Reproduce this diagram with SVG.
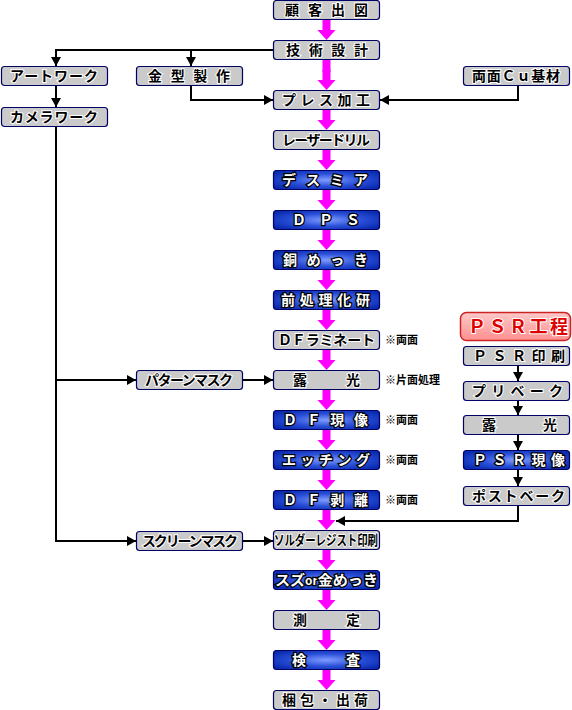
<svg xmlns="http://www.w3.org/2000/svg" width="572" height="710" viewBox="0 0 572 710">
<defs>
<radialGradient id="blue" cx="50%" cy="50%" r="60%">
<stop offset="0" stop-color="#7f9cff"/>
<stop offset="0.55" stop-color="#2a4fd8"/>
<stop offset="1" stop-color="#0a2cb0"/>
</radialGradient>
<linearGradient id="pink" x1="0" y1="0" x2="0" y2="1">
<stop offset="0" stop-color="#ffc8c8"/>
<stop offset="1" stop-color="#ff8f8f"/>
</linearGradient>
<marker id="ah" markerWidth="10" markerHeight="10" refX="9" refY="5" orient="auto" markerUnits="userSpaceOnUse">
<path d="M0,0 L9,5 L0,10 Z" fill="#000"/>
</marker>
<g id="marr"><path d="M-4,0 H4 V10 H9 L0,20 L-9,10 H-4 Z" fill="#ff00ff"/></g>
</defs>
<style>
.gb{fill:#cacaca;stroke:#000066;stroke-width:1.2}
.bb{fill:url(#blue);stroke:#000066;stroke-width:1.2}
.pb{fill:url(#pink);stroke:#cc2222;stroke-width:1.5}
text{font-family:"Noto Sans CJK JP","Noto Sans",sans-serif;font-weight:bold;font-size:14px;paint-order:stroke}
.gt{fill:#000;stroke:#fff;stroke-width:2}
.bt{fill:#fff;stroke:#000;stroke-width:2.5}
.pt{fill:#e00000;stroke:#fff;stroke-width:2;font-size:18px}
.nt{fill:#000;font-size:11px}
.ln{fill:none;stroke:#000;stroke-width:2}
</style>

<g id="connectors">
<use href="#marr" x="326.5" y="20"/>
<use href="#marr" x="326.5" y="70"/>
<use href="#marr" x="326.5" y="110"/>
<use href="#marr" x="326.5" y="150"/>
<use href="#marr" x="326.5" y="190"/>
<use href="#marr" x="326.5" y="230"/>
<use href="#marr" x="326.5" y="270"/>
<use href="#marr" x="326.5" y="310"/>
<use href="#marr" x="326.5" y="350"/>
<use href="#marr" x="326.5" y="390"/>
<use href="#marr" x="326.5" y="430"/>
<use href="#marr" x="326.5" y="470"/>
<use href="#marr" x="326.5" y="510"/>
<use href="#marr" x="326.5" y="550"/>
<use href="#marr" x="326.5" y="590"/>
<use href="#marr" x="326.5" y="630"/>
<use href="#marr" x="326.5" y="670"/>
<rect x="322.5" y="60" width="8" height="12" fill="#ff00ff"/>
<path class="ln" d="M273,50 H56 V66" marker-end="url(#ah)"/>
<path class="ln" d="M191,50 V66" marker-end="url(#ah)"/>
<path class="ln" d="M56,85 V107" marker-end="url(#ah)"/>
<path class="ln" d="M191,85 V100 H273" marker-end="url(#ah)"/>
<path class="ln" d="M518,85 V100 H380" marker-end="url(#ah)"/>
<path class="ln" d="M56,126 V541 H136" marker-end="url(#ah)"/>
<path class="ln" d="M56,380 H136" marker-end="url(#ah)"/>
<path class="ln" d="M243,380 H273" marker-end="url(#ah)"/>
<path class="ln" d="M243,541 H273" marker-end="url(#ah)"/>
<path class="ln" d="M518,366 V381" marker-end="url(#ah)"/>
<path class="ln" d="M518,400 V415" marker-end="url(#ah)"/>
<path class="ln" d="M518,434 V450" marker-end="url(#ah)"/>
<path class="ln" d="M518,469 V486" marker-end="url(#ah)"/>
<path class="ln" d="M518,505 V521 H336" marker-end="url(#ah)"/>
</g>

<g id="n1"><rect class="gb" x="273.5" y="0.5" width="106" height="19" rx="3"/><text class="gt" x="285" y="15" textLength="83" lengthAdjust="spacing">顧客出図</text></g>
<g id="n2"><rect class="gb" x="273.5" y="40.5" width="106" height="19" rx="3"/><text class="gt" x="286" y="55" textLength="82" lengthAdjust="spacing">技術設計</text></g>
<g id="n3"><rect class="gb" x="273.5" y="90.5" width="106" height="19" rx="3"/><text class="gt" x="282" y="105" textLength="88" lengthAdjust="spacing">プレス加工</text></g>
<g id="n4"><rect class="gb" x="273.5" y="130.5" width="106" height="19" rx="3"/><text class="gt" x="282" y="145" textLength="88" lengthAdjust="spacing">レーザードリル</text></g>
<g id="n5"><rect class="bb" x="273.5" y="170.5" width="106" height="19" rx="3"/><text class="bt" x="282" y="185" textLength="86" lengthAdjust="spacing">デスミア</text></g>
<g id="n6"><rect class="bb" x="273.5" y="210.5" width="106" height="19" rx="3"/><text class="bt" x="292" y="225" textLength="68" lengthAdjust="spacing">ＤＰＳ</text></g>
<g id="n7"><rect class="bb" x="273.5" y="250.5" width="106" height="19" rx="3"/><text class="bt" x="283" y="265" textLength="85" lengthAdjust="spacing">銅めっき</text></g>
<g id="n8"><rect class="bb" x="273.5" y="290.5" width="106" height="19" rx="3"/><text class="bt" x="281" y="305" textLength="89" lengthAdjust="spacing">前処理化研</text></g>
<g id="n9"><rect class="gb" x="273.5" y="330.5" width="106" height="19" rx="3"/><text class="gt" x="278" y="345" textLength="97" lengthAdjust="spacing">ＤＦラミネート</text></g>
<g id="n10"><rect class="gb" x="273.5" y="370.5" width="106" height="19" rx="3"/><text class="gt" x="293" y="385" textLength="67" lengthAdjust="spacing">露光</text></g>
<g id="n11"><rect class="bb" x="273.5" y="410.5" width="106" height="19" rx="3"/><text class="bt" x="283" y="425" textLength="85" lengthAdjust="spacing">ＤＦ現像</text></g>
<g id="n12"><rect class="bb" x="273.5" y="450.5" width="106" height="19" rx="3"/><text class="bt" x="282" y="465" textLength="88" lengthAdjust="spacing">エッチング</text></g>
<g id="n13"><rect class="bb" x="273.5" y="490.5" width="106" height="19" rx="3"/><text class="bt" x="283" y="505" textLength="85" lengthAdjust="spacing">ＤＦ剥離</text></g>
<g id="n14"><rect class="gb" x="273.5" y="530.5" width="106" height="19" rx="3"/><text class="gt" x="274" y="545" font-size="13" textLength="104" lengthAdjust="spacingAndGlyphs">ソルダーレジスト印刷</text></g>
<g id="n15"><rect class="bb" x="273.5" y="570.5" width="106" height="19" rx="3"/><text class="bt" x="275" y="585" textLength="103" lengthAdjust="spacingAndGlyphs">スズ<tspan font-size="11">or</tspan>金めっき</text></g>
<g id="n16"><rect class="gb" x="273.5" y="610.5" width="106" height="19" rx="3"/><text class="gt" x="293" y="625" textLength="67" lengthAdjust="spacing">測定</text></g>
<g id="n17"><rect class="bb" x="273.5" y="650.5" width="106" height="19" rx="3"/><text class="bt" x="292" y="665" textLength="68" lengthAdjust="spacing">検査</text></g>
<g id="n18"><rect class="gb" x="273.5" y="690.5" width="106" height="19" rx="3"/><text class="gt" x="282" y="705" textLength="86" lengthAdjust="spacing">梱包・出荷</text></g>

<g id="l1"><rect class="gb" x="1.5" y="66.5" width="106" height="19" rx="3"/><text class="gt" x="10" y="81" textLength="88" lengthAdjust="spacing">アートワーク</text></g>
<g id="l2"><rect class="gb" x="1.5" y="107.5" width="106" height="19" rx="3"/><text class="gt" x="10" y="122" textLength="88" lengthAdjust="spacing">カメラワーク</text></g>
<g id="l3"><rect class="gb" x="136.5" y="66.5" width="106" height="19" rx="3"/><text class="gt" x="148" y="81" textLength="82" lengthAdjust="spacing">金型製作</text></g>
<g id="l4"><rect class="gb" x="136.5" y="370.5" width="106" height="19" rx="3"/><text class="gt" x="145" y="385" textLength="88" lengthAdjust="spacing">パターンマスク</text></g>
<g id="l5"><rect class="gb" x="136.5" y="531.5" width="106" height="19" rx="3"/><text class="gt" x="142" y="546" textLength="96" lengthAdjust="spacing">スクリーンマスク</text></g>

<g id="r1"><rect class="gb" x="463.5" y="66.5" width="106" height="19" rx="3"/><text class="gt" x="472" y="81" textLength="88" lengthAdjust="spacing">両面Ｃｕ基材</text></g>
<g id="r2"><rect class="pb" x="460.5" y="312.5" width="110" height="28" rx="6"/><text class="pt" x="468" y="333" textLength="100" lengthAdjust="spacing">ＰＳＲ工程</text></g>
<g id="r3"><rect class="gb" x="463.5" y="346.5" width="106" height="19" rx="3"/><text class="gt" x="473" y="361" textLength="92" lengthAdjust="spacing">ＰＳＲ印刷</text></g>
<g id="r4"><rect class="gb" x="463.5" y="381.5" width="106" height="19" rx="3"/><text class="gt" x="472" y="396" textLength="91" lengthAdjust="spacing">プリベーク</text></g>
<g id="r5"><rect class="gb" x="463.5" y="415.5" width="106" height="19" rx="3"/><text class="gt" x="482" y="430" textLength="75" lengthAdjust="spacing">露光</text></g>
<g id="r6"><rect class="bb" x="463.5" y="450.5" width="106" height="19" rx="3"/><text class="bt" x="473" y="465" textLength="92" lengthAdjust="spacing">ＰＳＲ現像</text></g>
<g id="r7"><rect class="gb" x="463.5" y="486.5" width="106" height="19" rx="3"/><text class="gt" x="472" y="501" textLength="93" lengthAdjust="spacing">ポストベーク</text></g>

<g id="notes">
<text class="nt" x="385" y="344">※両面</text>
<text class="nt" x="385" y="384">※片面処理</text>
<text class="nt" x="385" y="424">※両面</text>
<text class="nt" x="385" y="464">※両面</text>
<text class="nt" x="385" y="504">※両面</text>
</g>
</svg>
